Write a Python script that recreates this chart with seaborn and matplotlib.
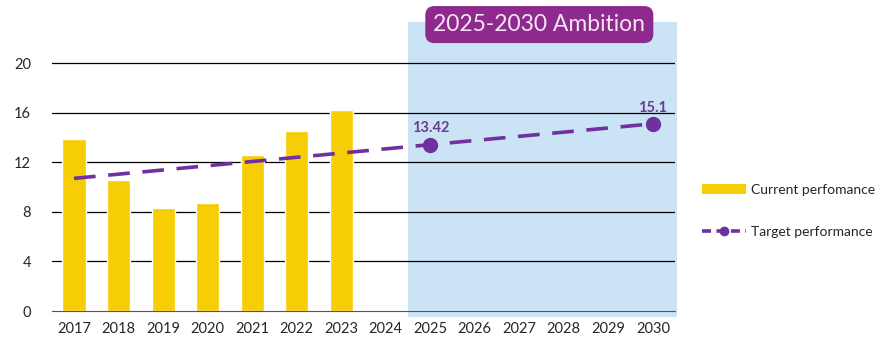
import matplotlib
matplotlib.use("Agg")
import matplotlib.pyplot as plt
import seaborn as sns
import pandas as pd
import numpy as np
from matplotlib.patches import Rectangle, Patch
from matplotlib.lines import Line2D

years = [str(y) for y in range(2017, 2031)]
current_years = ["2017", "2018", "2019", "2020", "2021", "2022", "2023"]
current_vals = [13.9, 10.6, 8.3, 8.75, 12.6, 14.5, 16.2]
target_years = ["2017", "2025", "2030"]
target_vals = [10.7, 13.42, 15.1]
target_labels = {"2025": "13.42", "2030": "15.1"}

yellow = "#F7CE05"
purple = "#7030A0"
box_purple = "#8E2A8E"
light_blue = "#CAE3F5"

sns.set_style("white")
plt.rcParams["font.family"] = ["Lato", "DejaVu Sans"]

fig = plt.figure(figsize=(8.93, 3.4), dpi=100)
ax = fig.add_axes([0.058, 0.085, 0.698, 0.85])

df = pd.DataFrame({"year": current_years, "value": current_vals})
sns.barplot(data=df, x="year", y="value", order=years, color=yellow,
            width=0.52, saturation=1, ax=ax, zorder=3)

ax.set_xlim(-0.5, len(years) - 0.5)
ax.set_ylim(0, 23.3)

# ambition shading
x0 = years.index("2025") - 0.5
ax.add_patch(Rectangle((x0, -0.5), len(years) - 0.5 - x0 + 0.05, 23.8,
                       facecolor=light_blue, edgecolor="none", zorder=0,
                       clip_on=False))

for v in [4, 8, 12, 16, 20]:
    ax.axhline(v, color="black", lw=0.9, zorder=1)

tx = [years.index(y) for y in target_years]
ax.plot(tx, target_vals, color=purple, lw=2.6, ls=(0, (6, 3.5)), zorder=4)
mx = [years.index(y) for y in target_labels]
my = [target_vals[target_years.index(y)] for y in target_labels]
ax.plot(mx, my, "o", color=purple, ms=10, zorder=5)
for y, lab in target_labels.items():
    i = years.index(y)
    ax.text(i, target_vals[target_years.index(y)] + 0.75, lab, color="#6B3D8F",
            ha="center", va="bottom", fontsize=10.5, fontweight="bold", zorder=6)

ax.text((x0 + len(years) - 0.5) / 2 - 0.05, 23.1, "2025-2030 Ambition",
        ha="center", va="center", fontsize=16.5, color="#F6E4F2", zorder=7,
        clip_on=False,
        bbox=dict(boxstyle="round,pad=0.35,rounding_size=0.4", fc=box_purple,
                  ec="none"))

ax.set_yticks([0, 4, 8, 12, 16, 20])
ax.set_yticklabels(["0", "4", "8", "12", "16", "20"], fontsize=10.5)
ax.set_xticks(range(len(years)))
ax.set_xticklabels(years, fontsize=10.5)
ax.set_xticks(np.arange(-0.5, len(years), 1), minor=True)
ax.tick_params(axis="x", which="major", length=0, pad=8)
ax.tick_params(axis="x", which="minor", length=4, color="#555555", direction="out")
ax.tick_params(axis="y", length=0, pad=15)
ax.set_xlabel("")
ax.set_ylabel("")
for s in ["left", "right", "top"]:
    ax.spines[s].set_visible(False)
ax.spines["bottom"].set_color("#555555")
ax.spines["bottom"].set_zorder(6)

handles = [Patch(facecolor=yellow, edgecolor="none"),
           Line2D([0], [0], color=purple, lw=2.6, ls=(0, (2.5, 1.5)),
                  marker="o", ms=6)]
fig.legend(handles, ["Current perfomance", "Target performance"],
           loc="center left", bbox_to_anchor=(0.772, 0.38), frameon=False,
           fontsize=10, handlelength=3.2, labelspacing=2.2, handletextpad=0.3)

fig.savefig("out.png", dpi=100)
